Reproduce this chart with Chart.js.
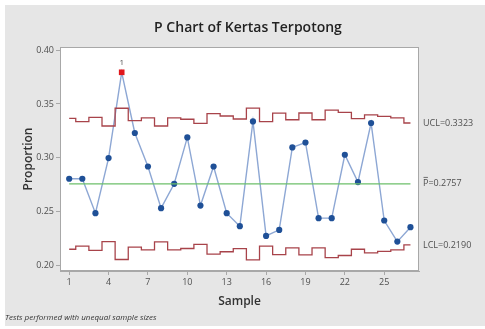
<!DOCTYPE html>
<html>
<head>
<meta charset="utf-8">
<script src="https://cdn.jsdelivr.net/npm/chart.js@4"></script>
<style>
  html, body { margin: 0; padding: 0; background: #ffffff; }
  #wrap { width: 485px; height: 329px; position: relative; }
</style>
</head>
<body>
<div id="wrap"><canvas id="c" width="485" height="329"></canvas></div>
<script>
// Sample numbers and the proportion defective per sample
const samples = [1, 2, 3, 4, 5, 6, 7, 8, 9, 10, 11, 12, 13, 14, 15, 16, 17, 18, 19, 20, 21, 22, 23, 24, 25, 26, 27];
const proportion = [0.2805, 0.2805, 0.2485, 0.2997, 0.3794, 0.3230, 0.2919, 0.2532, 0.2758, 0.3189,
                    0.2556, 0.2919, 0.2485, 0.2364, 0.3338, 0.2274, 0.2330, 0.3096, 0.3142, 0.2439,
                    0.2439, 0.3028, 0.2774, 0.3323, 0.2417, 0.2221, 0.2355];
// Control limits per sample (unequal sample sizes)
const ucl = [0.3365, 0.3335, 0.3375, 0.3295, 0.3460, 0.3345, 0.3370, 0.3295, 0.3370, 0.3358,
             0.3320, 0.3410, 0.3388, 0.3360, 0.3462, 0.3335, 0.3414, 0.3353, 0.3416, 0.3353,
             0.3442, 0.3422, 0.3364, 0.3398, 0.3384, 0.3370, 0.3323];
const lcl = [0.2150, 0.2180, 0.2140, 0.2220, 0.2055, 0.2170, 0.2145, 0.2218, 0.2145, 0.2157,
             0.2195, 0.2105, 0.2127, 0.2155, 0.2052, 0.2180, 0.2100, 0.2162, 0.2098, 0.2162,
             0.2073, 0.2092, 0.2150, 0.2116, 0.2130, 0.2145, 0.2190];
const pBar = 0.2757;
const uclLast = 0.3323;
const lclLast = 0.2190;
// Samples failing test 1 (beyond the limits)
const flagged = [5];
const xTickValues = [1, 4, 7, 10, 13, 16, 19, 22, 25];
const yTickValues = [0.20, 0.25, 0.30, 0.35, 0.40];

const FONT = "'Open Sans', 'Noto Sans', sans-serif";
const pts = samples.map((s, i) => ({ x: s, y: proportion[i] }));
const isFlag = samples.map(s => flagged.includes(s));

const decor = {
  id: 'decor',
  beforeDraw(chart) {
    const { ctx, chartArea: a } = chart;
    ctx.save();
    ctx.fillStyle = '#ffffff';
    ctx.fillRect(0, 0, chart.width, chart.height);
    ctx.fillStyle = '#e6e6e6';
    ctx.fillRect(5, 5, chart.width - 5, chart.height - 8);
    ctx.fillStyle = '#ffffff';
    ctx.fillRect(a.left, a.top, a.right - a.left, a.bottom - a.top);
    ctx.restore();
  },
  afterDraw(chart) {
    const { ctx, chartArea: a, scales } = chart;
    ctx.save();
    ctx.strokeStyle = '#a8a8a8';
    ctx.lineWidth = 1;
    ctx.strokeRect(a.left + 0.5, a.top + 0.5, a.right - a.left - 1, a.bottom - a.top - 1);

    // title
    ctx.fillStyle = '#222222';
    ctx.textAlign = 'center';
    ctx.textBaseline = 'middle';
    ctx.font = `600 14px ${FONT}`;
    ctx.fillText('P Chart of Kertas Terpotong', 248, 28);

    // limit labels on the right
    ctx.font = `9px ${FONT}`;
    ctx.fillStyle = '#505050';
    ctx.textAlign = 'left';
    const y = scales.y;
    const lx = 423;
    ctx.fillText('UCL=' + uclLast.toFixed(4), lx, y.getPixelForValue(uclLast));
    const py = y.getPixelForValue(pBar);
    ctx.fillText('P=' + pBar.toFixed(4), lx, py);
    // bar over P
    const pw = ctx.measureText('P').width;
    ctx.strokeStyle = '#505050';
    ctx.lineWidth = 0.8;
    ctx.beginPath();
    ctx.moveTo(lx + 0.5, py - 6.5);
    ctx.lineTo(lx + pw - 0.5, py - 6.5);
    ctx.stroke();
    ctx.fillText('LCL=' + lclLast.toFixed(4), lx, y.getPixelForValue(lclLast));

    // test number above flagged points
    ctx.textAlign = 'center';
    ctx.font = `8px ${FONT}`;
    flagged.forEach(s => {
      const i = samples.indexOf(s);
      ctx.fillText('1', scales.x.getPixelForValue(s), y.getPixelForValue(proportion[i]) - 10);
    });

    // footnote
    ctx.textAlign = 'left';
    ctx.font = `italic 8px ${FONT}`;
    ctx.fillStyle = '#333333';
    ctx.fillText('Tests performed with unequal sample sizes', 5, 318);
    ctx.restore();
  }
};

new Chart(document.getElementById('c'), {
  type: 'line',
  data: {
    datasets: [
      {
        label: 'UCL',
        data: samples.map((s, i) => ({ x: s, y: ucl[i] })),
        borderColor: '#a8434a',
        borderWidth: 1.3,
        stepped: 'middle',
        pointRadius: 0,
        fill: false
      },
      {
        label: 'LCL',
        data: samples.map((s, i) => ({ x: s, y: lcl[i] })),
        borderColor: '#a8434a',
        borderWidth: 1.3,
        stepped: 'middle',
        pointRadius: 0,
        fill: false
      },
      {
        label: 'P-bar',
        data: [{ x: samples[0], y: pBar }, { x: samples[samples.length - 1], y: pBar }],
        borderColor: '#6cbf6a',
        borderWidth: 1.3,
        pointRadius: 0,
        fill: false
      },
      {
        label: 'Proportion',
        data: pts,
        borderColor: '#8da7d4',
        borderWidth: 1.4,
        pointStyle: isFlag.map(f => f ? 'rect' : 'circle'),
        pointRadius: isFlag.map(f => f ? 4 : 3.1),
        pointBackgroundColor: isFlag.map(f => f ? '#e0161b' : '#1f5097'),
        pointBorderColor: isFlag.map(f => f ? '#e0161b' : '#1f5097'),
        pointBorderWidth: 0,
        tension: 0,
        fill: false
      }
    ]
  },
  options: {
    responsive: false,
    animation: false,
    layout: { padding: { left: 0, right: 66, top: 47, bottom: 20 } },
    plugins: { legend: { display: false }, tooltip: { enabled: false }, title: { display: false } },
    scales: {
      x: {
        type: 'linear',
        min: 0.3,
        max: 27.65,
        afterFit(scale) { scale.height = 38; },
        afterBuildTicks(scale) { scale.ticks = xTickValues.map(v => ({ value: v })); },
        grid: { drawOnChartArea: false, drawTicks: true, tickLength: 4, color: '#a8a8a8' },
        border: { display: true, color: '#a8a8a8' },
        ticks: { color: '#505050', font: { family: FONT, size: 9 }, padding: 2, maxRotation: 0, autoSkip: false,
                 callback: v => String(v) },
        title: { display: true, text: 'Sample', color: '#333333', font: { family: FONT, size: 12, weight: '600' },
                 padding: { top: 6, bottom: 0 } }
      },
      y: {
        type: 'linear',
        min: 0.1948,
        max: 0.4029,
        afterFit(scale) { scale.width = 60; },
        afterBuildTicks(scale) { scale.ticks = yTickValues.map(v => ({ value: v })); },
        grid: { drawOnChartArea: false, drawTicks: true, tickLength: 4, color: '#a8a8a8' },
        border: { display: true, color: '#a8a8a8' },
        ticks: { color: '#505050', font: { family: FONT, size: 9 }, padding: 2,
                 callback: v => Number(v).toFixed(2) },
        title: { display: true, text: 'Proportion', color: '#333333', font: { family: FONT, size: 12, weight: '600' },
                 padding: { top: 21, bottom: 0 } }
      }
    }
  },
  plugins: [decor]
});
</script>
</body>
</html>
